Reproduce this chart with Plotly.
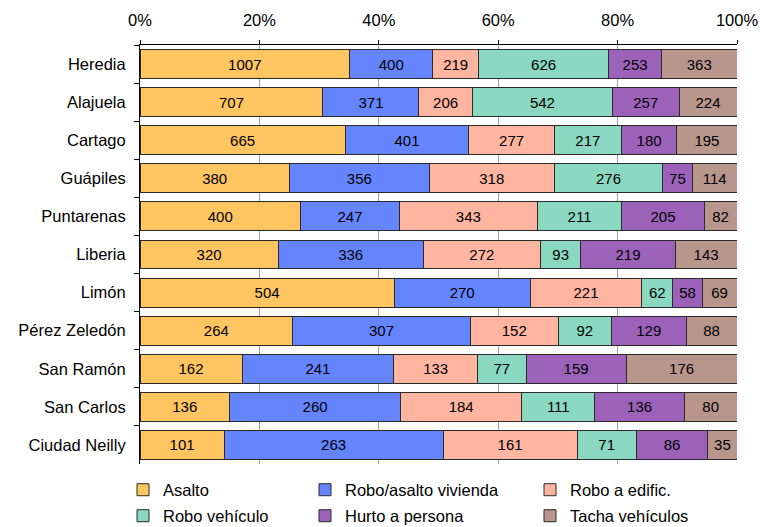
import plotly.graph_objects as go

categories = ["Heredia", "Alajuela", "Cartago", "Guápiles", "Puntarenas", "Liberia",
              "Limón", "Pérez Zeledón", "San Ramón", "San Carlos", "Ciudad Neilly"]

asalto = [1007, 707, 665, 380, 400, 320, 504, 264, 162, 136, 101]
robo_vivienda = [400, 371, 401, 356, 247, 336, 270, 307, 241, 260, 263]
robo_edific = [219, 206, 277, 318, 343, 272, 221, 152, 133, 184, 161]
robo_vehiculo = [626, 542, 217, 276, 211, 93, 62, 92, 77, 111, 71]
hurto_persona = [253, 257, 180, 75, 205, 219, 58, 129, 159, 136, 86]
tacha_vehiculos = [363, 224, 195, 114, 82, 143, 69, 88, 176, 80, 35]

tick_vals = [0, 20, 40, 60, 80, 100]
tick_text = ["0%", "20%", "40%", "60%", "80%", "100%"]

series = [
    ("Asalto", asalto, "#FFC560"),
    ("Robo/asalto vivienda", robo_vivienda, "#6585FF"),
    ("Robo a edific.", robo_edific, "#FFB5A0"),
    ("Robo vehículo", robo_vehiculo, "#8AD8C0"),
    ("Hurto a persona", hurto_persona, "#9C62BA"),
    ("Tacha vehículos", tacha_vehiculos, "#B9968C"),
]

FONT = "Liberation Sans, Arial, sans-serif"
W, H = 760, 527

# legend text start / centre positions in window pixels (3 columns x 2 rows)
legend_pos = [(161, 490), (343, 490), (568, 490), (161, 516), (343, 516), (568, 516)]

fig = go.Figure()
for i, (name, vals, color) in enumerate(series):
    lg = "legend" if i == 0 else f"legend{i+1}"
    fig.add_trace(go.Bar(
        name=name, y=categories, x=vals, orientation="h",
        marker=dict(color=color, line=dict(color="#2a2a2a", width=1)),
        text=[str(v) for v in vals], textposition="inside",
        insidetextanchor="middle", textangle=0,
        textfont=dict(family=FONT, size=15, color="black"),
        constraintext="none",
        legend=lg,
        hoverinfo="skip",
    ))

layout_legends = {}
for i, (tx, ty) in enumerate(legend_pos):
    key = "legend" if i == 0 else f"legend{i+1}"
    layout_legends[key] = dict(
        x=(tx - 38) / W, xref="container", xanchor="left",
        y=1 - ty / H, yref="container", yanchor="middle",
        font=dict(family=FONT, size=16.5, color="black"),
        bgcolor="rgba(0,0,0,0)", borderwidth=0,
    )

plot_left, plot_right, plot_top, plot_bottom = 140, 737, 45, 464

fig.update_layout(
    width=W, height=H,
    barmode="stack", barnorm="percent", bargap=0.24,
    plot_bgcolor="white", paper_bgcolor="white",
    margin=dict(l=plot_left, r=W - plot_right, t=plot_top,
                b=H - plot_bottom, autoexpand=False),
    font=dict(family=FONT, size=16.5, color="black"),
    showlegend=True,
    xaxis=dict(
        side="top", range=[0, 100], tickvals=tick_vals, ticktext=tick_text,
        showgrid=True, gridcolor="#A0A0A0", gridwidth=1,
        showline=True, linecolor="black", linewidth=1,
        ticks="outside", ticklen=4, tickcolor="black",
        ticklabelstandoff=7,
        tickfont=dict(family=FONT, size=16.5, color="black"),
        zeroline=False, fixedrange=True, automargin=False,
    ),
    yaxis=dict(
        autorange="reversed", showline=True, linecolor="black", linewidth=1,
        ticks="outside", ticklen=5, tickcolor="black", tickson="boundaries",
        ticklabelstandoff=10,
        tickfont=dict(family=FONT, size=16.5, color="black"),
        showgrid=False, automargin=False, fixedrange=True,
    ),
    **layout_legends,
)

fig.write_html(
    "out.html",
    config={"displayModeBar": False, "staticPlot": True},
    post_script="document.body.style.margin='0';document.body.style.overflow='hidden';",
)
